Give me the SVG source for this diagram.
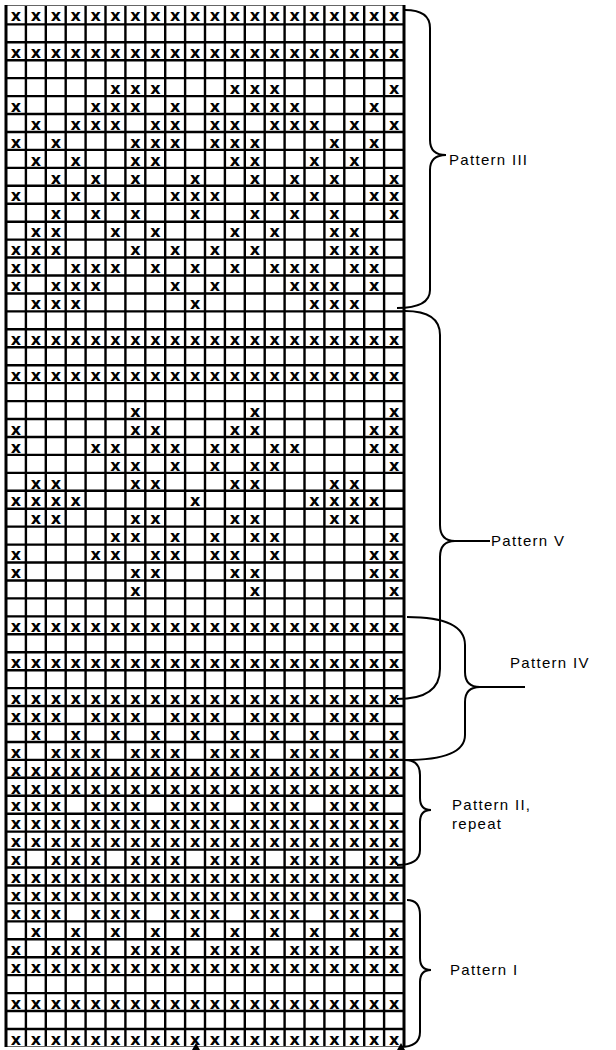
<svg xmlns="http://www.w3.org/2000/svg" width="616" height="1050" viewBox="0 0 616 1050">
<style>
.g{stroke:#000;stroke-width:2.4;fill:none}
.m{font-family:"DejaVu Sans",sans-serif;font-weight:bold;font-size:16px;text-anchor:middle;fill:#000}
.b{stroke:#000;stroke-width:2;fill:none}
.l{font-family:"Liberation Sans",Arial,sans-serif;font-size:15px;letter-spacing:1.3px;fill:#000}
</style>
<rect width="616" height="1050" fill="#fff"/>
<g id="grid">
<path class="g" d="M6 24.34H404M6 42.28H404M6 60.22H404M6 78.16H404M6 96.1H404M6 114.04H404M6 131.98H404M6 149.92H404M6 167.86H404M6 185.8H404M6 203.74H404M6 221.68H404M6 239.62H404M6 257.56H404M6 275.5H404M6 293.44H404M6 311.38H404M6 329.32H404M6 347.26H404M6 365.2H404M6 383.14H404M6 401.08H404M6 419.02H404M6 436.96H404M6 454.9H404M6 472.84H404M6 490.78H404M6 508.72H404M6 526.66H404M6 544.6H404M6 562.54H404M6 580.48H404M6 598.42H404M6 616.36H404M6 634.3H404M6 652.24H404M6 670.18H404M6 688.12H404M6 706.06H404M6 724H404M6 741.94H404M6 759.88H404M6 777.82H404M6 795.76H404M6 813.7H404M6 831.64H404M6 849.58H404M6 867.52H404M6 885.46H404M6 903.4H404M6 921.34H404M6 939.28H404M6 957.22H404M6 975.16H404M6 993.1H404M6 1011.04H404M6 1028.98H404"/>
<path class="g" d="M25.9 5V1047M45.8 5V1047M65.7 5V1047M85.6 5V1047M105.5 5V1047M125.4 5V1047M145.3 5V1047M165.2 5V1047M185.1 5V1047M205 5V1047M224.9 5V1047M244.8 5V1047M264.7 5V1047M284.6 5V1047M304.5 5V1047M324.4 5V1047M344.3 5V1047M364.2 5V1047M384.1 5V1047"/>
<path d="M5 5.5H405M5 1046.5H405" stroke="#666" stroke-width="1.2" fill="none"/>
<path d="M6 5V1047M404 5V1047" stroke="#000" stroke-width="3" fill="none"/>
</g>
<g id="marks" class="m">
<g transform="translate(0,21)"><text x="16">x</text><text x="36">x</text><text x="56">x</text><text x="75.7">x</text><text x="95.6">x</text><text x="115.5">x</text><text x="135.4">x</text><text x="155.3">x</text><text x="175.2">x</text><text x="195.1">x</text><text x="215">x</text><text x="234.9">x</text><text x="254.8">x</text><text x="274.7">x</text><text x="294.6">x</text><text x="314.5">x</text><text x="334.4">x</text><text x="354.3">x</text><text x="374.2">x</text><text x="394.1">x</text></g>
<g transform="translate(0,57.9)"><text x="16">x</text><text x="36">x</text><text x="56">x</text><text x="75.7">x</text><text x="95.6">x</text><text x="115.5">x</text><text x="135.4">x</text><text x="155.3">x</text><text x="175.2">x</text><text x="195.1">x</text><text x="215">x</text><text x="234.9">x</text><text x="254.8">x</text><text x="274.7">x</text><text x="294.6">x</text><text x="314.5">x</text><text x="334.4">x</text><text x="354.3">x</text><text x="374.2">x</text><text x="394.1">x</text></g>
<g transform="translate(0,93.8)"><text x="115.5">x</text><text x="135.4">x</text><text x="155.3">x</text><text x="234.9">x</text><text x="254.8">x</text><text x="274.7">x</text><text x="394.1">x</text></g>
<g transform="translate(0,111.7)"><text x="16">x</text><text x="95.6">x</text><text x="115.5">x</text><text x="135.4">x</text><text x="175.2">x</text><text x="215">x</text><text x="254.8">x</text><text x="274.7">x</text><text x="294.6">x</text><text x="374.2">x</text></g>
<g transform="translate(0,129.7)"><text x="36">x</text><text x="75.7">x</text><text x="95.6">x</text><text x="115.5">x</text><text x="155.3">x</text><text x="175.2">x</text><text x="215">x</text><text x="234.9">x</text><text x="274.7">x</text><text x="294.6">x</text><text x="314.5">x</text><text x="354.3">x</text><text x="394.1">x</text></g>
<g transform="translate(0,147.6)"><text x="16">x</text><text x="56">x</text><text x="135.4">x</text><text x="155.3">x</text><text x="175.2">x</text><text x="215">x</text><text x="234.9">x</text><text x="254.8">x</text><text x="334.4">x</text><text x="374.2">x</text></g>
<g transform="translate(0,165.6)"><text x="36">x</text><text x="75.7">x</text><text x="135.4">x</text><text x="155.3">x</text><text x="234.9">x</text><text x="254.8">x</text><text x="314.5">x</text><text x="354.3">x</text></g>
<g transform="translate(0,183.5)"><text x="56">x</text><text x="95.6">x</text><text x="135.4">x</text><text x="195.1">x</text><text x="254.8">x</text><text x="294.6">x</text><text x="334.4">x</text><text x="394.1">x</text></g>
<g transform="translate(0,201.4)"><text x="16">x</text><text x="75.7">x</text><text x="115.5">x</text><text x="175.2">x</text><text x="195.1">x</text><text x="215">x</text><text x="274.7">x</text><text x="314.5">x</text><text x="374.2">x</text><text x="394.1">x</text></g>
<g transform="translate(0,219.4)"><text x="56">x</text><text x="95.6">x</text><text x="135.4">x</text><text x="195.1">x</text><text x="254.8">x</text><text x="294.6">x</text><text x="334.4">x</text><text x="394.1">x</text></g>
<g transform="translate(0,237.3)"><text x="36">x</text><text x="56">x</text><text x="115.5">x</text><text x="155.3">x</text><text x="234.9">x</text><text x="274.7">x</text><text x="334.4">x</text><text x="354.3">x</text></g>
<g transform="translate(0,255.3)"><text x="16">x</text><text x="36">x</text><text x="56">x</text><text x="135.4">x</text><text x="175.2">x</text><text x="215">x</text><text x="254.8">x</text><text x="334.4">x</text><text x="354.3">x</text><text x="374.2">x</text></g>
<g transform="translate(0,273.2)"><text x="16">x</text><text x="36">x</text><text x="75.7">x</text><text x="95.6">x</text><text x="115.5">x</text><text x="155.3">x</text><text x="195.1">x</text><text x="234.9">x</text><text x="274.7">x</text><text x="294.6">x</text><text x="314.5">x</text><text x="354.3">x</text><text x="374.2">x</text></g>
<g transform="translate(0,291.1)"><text x="16">x</text><text x="56">x</text><text x="75.7">x</text><text x="95.6">x</text><text x="175.2">x</text><text x="215">x</text><text x="294.6">x</text><text x="314.5">x</text><text x="334.4">x</text><text x="374.2">x</text></g>
<g transform="translate(0,309.1)"><text x="36">x</text><text x="56">x</text><text x="75.7">x</text><text x="195.1">x</text><text x="314.5">x</text><text x="334.4">x</text><text x="354.3">x</text></g>
<g transform="translate(0,345)"><text x="16">x</text><text x="36">x</text><text x="56">x</text><text x="75.7">x</text><text x="95.6">x</text><text x="115.5">x</text><text x="135.4">x</text><text x="155.3">x</text><text x="175.2">x</text><text x="195.1">x</text><text x="215">x</text><text x="234.9">x</text><text x="254.8">x</text><text x="274.7">x</text><text x="294.6">x</text><text x="314.5">x</text><text x="334.4">x</text><text x="354.3">x</text><text x="374.2">x</text><text x="394.1">x</text></g>
<g transform="translate(0,380.8)"><text x="16">x</text><text x="36">x</text><text x="56">x</text><text x="75.7">x</text><text x="95.6">x</text><text x="115.5">x</text><text x="135.4">x</text><text x="155.3">x</text><text x="175.2">x</text><text x="195.1">x</text><text x="215">x</text><text x="234.9">x</text><text x="254.8">x</text><text x="274.7">x</text><text x="294.6">x</text><text x="314.5">x</text><text x="334.4">x</text><text x="354.3">x</text><text x="374.2">x</text><text x="394.1">x</text></g>
<g transform="translate(0,416.7)"><text x="135.4">x</text><text x="254.8">x</text><text x="394.1">x</text></g>
<g transform="translate(0,434.7)"><text x="16">x</text><text x="135.4">x</text><text x="155.3">x</text><text x="234.9">x</text><text x="254.8">x</text><text x="374.2">x</text><text x="394.1">x</text></g>
<g transform="translate(0,452.6)"><text x="16">x</text><text x="95.6">x</text><text x="115.5">x</text><text x="155.3">x</text><text x="175.2">x</text><text x="215">x</text><text x="234.9">x</text><text x="274.7">x</text><text x="294.6">x</text><text x="374.2">x</text><text x="394.1">x</text></g>
<g transform="translate(0,470.5)"><text x="115.5">x</text><text x="135.4">x</text><text x="175.2">x</text><text x="215">x</text><text x="254.8">x</text><text x="274.7">x</text><text x="394.1">x</text></g>
<g transform="translate(0,488.5)"><text x="36">x</text><text x="56">x</text><text x="135.4">x</text><text x="155.3">x</text><text x="234.9">x</text><text x="254.8">x</text><text x="334.4">x</text><text x="354.3">x</text></g>
<g transform="translate(0,506.4)"><text x="16">x</text><text x="36">x</text><text x="56">x</text><text x="75.7">x</text><text x="195.1">x</text><text x="314.5">x</text><text x="334.4">x</text><text x="354.3">x</text><text x="374.2">x</text></g>
<g transform="translate(0,524.4)"><text x="36">x</text><text x="56">x</text><text x="135.4">x</text><text x="155.3">x</text><text x="234.9">x</text><text x="254.8">x</text><text x="334.4">x</text><text x="354.3">x</text></g>
<g transform="translate(0,542.3)"><text x="115.5">x</text><text x="135.4">x</text><text x="175.2">x</text><text x="215">x</text><text x="254.8">x</text><text x="274.7">x</text><text x="394.1">x</text></g>
<g transform="translate(0,560.2)"><text x="16">x</text><text x="95.6">x</text><text x="115.5">x</text><text x="155.3">x</text><text x="175.2">x</text><text x="215">x</text><text x="234.9">x</text><text x="274.7">x</text><text x="374.2">x</text><text x="394.1">x</text></g>
<g transform="translate(0,578.2)"><text x="16">x</text><text x="135.4">x</text><text x="155.3">x</text><text x="234.9">x</text><text x="254.8">x</text><text x="374.2">x</text><text x="394.1">x</text></g>
<g transform="translate(0,596.1)"><text x="135.4">x</text><text x="254.8">x</text><text x="394.1">x</text></g>
<g transform="translate(0,632)"><text x="16">x</text><text x="36">x</text><text x="56">x</text><text x="75.7">x</text><text x="95.6">x</text><text x="115.5">x</text><text x="135.4">x</text><text x="155.3">x</text><text x="175.2">x</text><text x="195.1">x</text><text x="215">x</text><text x="234.9">x</text><text x="254.8">x</text><text x="274.7">x</text><text x="294.6">x</text><text x="314.5">x</text><text x="334.4">x</text><text x="354.3">x</text><text x="374.2">x</text><text x="394.1">x</text></g>
<g transform="translate(0,667.9)"><text x="16">x</text><text x="36">x</text><text x="56">x</text><text x="75.7">x</text><text x="95.6">x</text><text x="115.5">x</text><text x="135.4">x</text><text x="155.3">x</text><text x="175.2">x</text><text x="195.1">x</text><text x="215">x</text><text x="234.9">x</text><text x="254.8">x</text><text x="274.7">x</text><text x="294.6">x</text><text x="314.5">x</text><text x="334.4">x</text><text x="354.3">x</text><text x="374.2">x</text><text x="394.1">x</text></g>
<g transform="translate(0,703.8)"><text x="16">x</text><text x="36">x</text><text x="56">x</text><text x="75.7">x</text><text x="95.6">x</text><text x="115.5">x</text><text x="135.4">x</text><text x="155.3">x</text><text x="175.2">x</text><text x="195.1">x</text><text x="215">x</text><text x="234.9">x</text><text x="254.8">x</text><text x="274.7">x</text><text x="294.6">x</text><text x="314.5">x</text><text x="334.4">x</text><text x="354.3">x</text><text x="374.2">x</text><text x="394.1">x</text></g>
<g transform="translate(0,721.7)"><text x="16">x</text><text x="36">x</text><text x="56">x</text><text x="95.6">x</text><text x="115.5">x</text><text x="135.4">x</text><text x="175.2">x</text><text x="195.1">x</text><text x="215">x</text><text x="254.8">x</text><text x="274.7">x</text><text x="294.6">x</text><text x="334.4">x</text><text x="354.3">x</text><text x="374.2">x</text></g>
<g transform="translate(0,739.6)"><text x="36">x</text><text x="75.7">x</text><text x="115.5">x</text><text x="155.3">x</text><text x="195.1">x</text><text x="234.9">x</text><text x="274.7">x</text><text x="314.5">x</text><text x="354.3">x</text><text x="394.1">x</text></g>
<g transform="translate(0,757.6)"><text x="16">x</text><text x="56">x</text><text x="75.7">x</text><text x="95.6">x</text><text x="135.4">x</text><text x="155.3">x</text><text x="175.2">x</text><text x="215">x</text><text x="234.9">x</text><text x="254.8">x</text><text x="294.6">x</text><text x="314.5">x</text><text x="334.4">x</text><text x="374.2">x</text><text x="394.1">x</text></g>
<g transform="translate(0,775.5)"><text x="16">x</text><text x="36">x</text><text x="56">x</text><text x="75.7">x</text><text x="95.6">x</text><text x="115.5">x</text><text x="135.4">x</text><text x="155.3">x</text><text x="175.2">x</text><text x="195.1">x</text><text x="215">x</text><text x="234.9">x</text><text x="254.8">x</text><text x="274.7">x</text><text x="294.6">x</text><text x="314.5">x</text><text x="334.4">x</text><text x="354.3">x</text><text x="374.2">x</text><text x="394.1">x</text></g>
<g transform="translate(0,793.5)"><text x="16">x</text><text x="36">x</text><text x="56">x</text><text x="75.7">x</text><text x="95.6">x</text><text x="115.5">x</text><text x="135.4">x</text><text x="155.3">x</text><text x="175.2">x</text><text x="195.1">x</text><text x="215">x</text><text x="234.9">x</text><text x="254.8">x</text><text x="274.7">x</text><text x="294.6">x</text><text x="314.5">x</text><text x="334.4">x</text><text x="354.3">x</text><text x="374.2">x</text><text x="394.1">x</text></g>
<g transform="translate(0,811.4)"><text x="16">x</text><text x="36">x</text><text x="56">x</text><text x="95.6">x</text><text x="115.5">x</text><text x="135.4">x</text><text x="175.2">x</text><text x="195.1">x</text><text x="215">x</text><text x="254.8">x</text><text x="274.7">x</text><text x="294.6">x</text><text x="334.4">x</text><text x="354.3">x</text><text x="374.2">x</text></g>
<g transform="translate(0,829.3)"><text x="16">x</text><text x="36">x</text><text x="56">x</text><text x="75.7">x</text><text x="95.6">x</text><text x="115.5">x</text><text x="135.4">x</text><text x="155.3">x</text><text x="175.2">x</text><text x="195.1">x</text><text x="215">x</text><text x="234.9">x</text><text x="254.8">x</text><text x="274.7">x</text><text x="294.6">x</text><text x="314.5">x</text><text x="334.4">x</text><text x="354.3">x</text><text x="374.2">x</text><text x="394.1">x</text></g>
<g transform="translate(0,847.3)"><text x="16">x</text><text x="36">x</text><text x="56">x</text><text x="75.7">x</text><text x="95.6">x</text><text x="115.5">x</text><text x="135.4">x</text><text x="155.3">x</text><text x="175.2">x</text><text x="195.1">x</text><text x="215">x</text><text x="234.9">x</text><text x="254.8">x</text><text x="274.7">x</text><text x="294.6">x</text><text x="314.5">x</text><text x="334.4">x</text><text x="354.3">x</text><text x="374.2">x</text><text x="394.1">x</text></g>
<g transform="translate(0,865.2)"><text x="16">x</text><text x="56">x</text><text x="75.7">x</text><text x="95.6">x</text><text x="135.4">x</text><text x="155.3">x</text><text x="175.2">x</text><text x="215">x</text><text x="234.9">x</text><text x="254.8">x</text><text x="294.6">x</text><text x="314.5">x</text><text x="334.4">x</text><text x="374.2">x</text><text x="394.1">x</text></g>
<g transform="translate(0,883.2)"><text x="16">x</text><text x="36">x</text><text x="56">x</text><text x="75.7">x</text><text x="95.6">x</text><text x="115.5">x</text><text x="135.4">x</text><text x="155.3">x</text><text x="175.2">x</text><text x="195.1">x</text><text x="215">x</text><text x="234.9">x</text><text x="254.8">x</text><text x="274.7">x</text><text x="294.6">x</text><text x="314.5">x</text><text x="334.4">x</text><text x="354.3">x</text><text x="374.2">x</text><text x="394.1">x</text></g>
<g transform="translate(0,901.1)"><text x="16">x</text><text x="36">x</text><text x="56">x</text><text x="75.7">x</text><text x="95.6">x</text><text x="115.5">x</text><text x="135.4">x</text><text x="155.3">x</text><text x="175.2">x</text><text x="195.1">x</text><text x="215">x</text><text x="234.9">x</text><text x="254.8">x</text><text x="274.7">x</text><text x="294.6">x</text><text x="314.5">x</text><text x="334.4">x</text><text x="354.3">x</text><text x="374.2">x</text><text x="394.1">x</text></g>
<g transform="translate(0,919)"><text x="16">x</text><text x="36">x</text><text x="56">x</text><text x="95.6">x</text><text x="115.5">x</text><text x="135.4">x</text><text x="175.2">x</text><text x="195.1">x</text><text x="215">x</text><text x="254.8">x</text><text x="274.7">x</text><text x="294.6">x</text><text x="334.4">x</text><text x="354.3">x</text><text x="374.2">x</text></g>
<g transform="translate(0,937)"><text x="36">x</text><text x="75.7">x</text><text x="115.5">x</text><text x="155.3">x</text><text x="195.1">x</text><text x="234.9">x</text><text x="274.7">x</text><text x="314.5">x</text><text x="354.3">x</text><text x="394.1">x</text></g>
<g transform="translate(0,954.9)"><text x="16">x</text><text x="56">x</text><text x="75.7">x</text><text x="95.6">x</text><text x="135.4">x</text><text x="155.3">x</text><text x="175.2">x</text><text x="215">x</text><text x="234.9">x</text><text x="254.8">x</text><text x="294.6">x</text><text x="314.5">x</text><text x="334.4">x</text><text x="374.2">x</text><text x="394.1">x</text></g>
<g transform="translate(0,972.9)"><text x="16">x</text><text x="36">x</text><text x="56">x</text><text x="75.7">x</text><text x="95.6">x</text><text x="115.5">x</text><text x="135.4">x</text><text x="155.3">x</text><text x="175.2">x</text><text x="195.1">x</text><text x="215">x</text><text x="234.9">x</text><text x="254.8">x</text><text x="274.7">x</text><text x="294.6">x</text><text x="314.5">x</text><text x="334.4">x</text><text x="354.3">x</text><text x="374.2">x</text><text x="394.1">x</text></g>
<g transform="translate(0,1008.7)"><text x="16">x</text><text x="36">x</text><text x="56">x</text><text x="75.7">x</text><text x="95.6">x</text><text x="115.5">x</text><text x="135.4">x</text><text x="155.3">x</text><text x="175.2">x</text><text x="195.1">x</text><text x="215">x</text><text x="234.9">x</text><text x="254.8">x</text><text x="274.7">x</text><text x="294.6">x</text><text x="314.5">x</text><text x="334.4">x</text><text x="354.3">x</text><text x="374.2">x</text><text x="394.1">x</text></g>
<g transform="translate(0,1044.6)"><text x="16">x</text><text x="36">x</text><text x="56">x</text><text x="75.7">x</text><text x="95.6">x</text><text x="115.5">x</text><text x="135.4">x</text><text x="155.3">x</text><text x="175.2">x</text><text x="195.1">x</text><text x="215">x</text><text x="234.9">x</text><text x="254.8">x</text><text x="274.7">x</text><text x="294.6">x</text><text x="314.5">x</text><text x="334.4">x</text><text x="354.3">x</text><text x="374.2">x</text><text x="394.1">x</text></g>
</g>
<g id="connectors">
<path class="b" d="M405 10Q430 10 430 28L430 140Q430 155 446 155Q430 155 430 170L430 290Q430 308 397 308"/>
<path class="b" d="M405 311Q440 311 440 335L440 525Q440 541 455 541L490 541M455 541Q440 541 440 557L440 669Q440 699 397 699"/>
<path class="b" d="M407 617Q465 617 465 645L465 672Q465 687 480 687L525 687M480 687Q465 687 465 702L465 735Q465 760 405 760"/>
<path class="b" d="M405 760Q420 760 420 775L420 798Q420 810 431 810Q420 810 420 822L420 850Q420 865 397 865"/>
<path class="b" d="M407 900Q420 900 420 915L420 958Q420 970 431 970Q420 970 420 982L420 1032Q420 1047 400 1047"/>
<path d="M192 1050L196 1043L200 1050Z M397 1050L401 1043L405 1050Z" fill="#000"/>
</g>
<g id="label-pattern-iii"><text class="l" x="449" y="165">Pattern III</text></g>
<g id="label-pattern-v"><text class="l" x="491" y="546">Pattern V</text></g>
<g id="label-pattern-iv"><text class="l" x="510" y="668">Pattern IV</text></g>
<g id="label-pattern-ii"><text class="l" x="452" y="810">Pattern II,</text><text class="l" x="452" y="829">repeat</text></g>
<g id="label-pattern-i"><text class="l" x="450" y="975">Pattern I</text></g>
</svg>
